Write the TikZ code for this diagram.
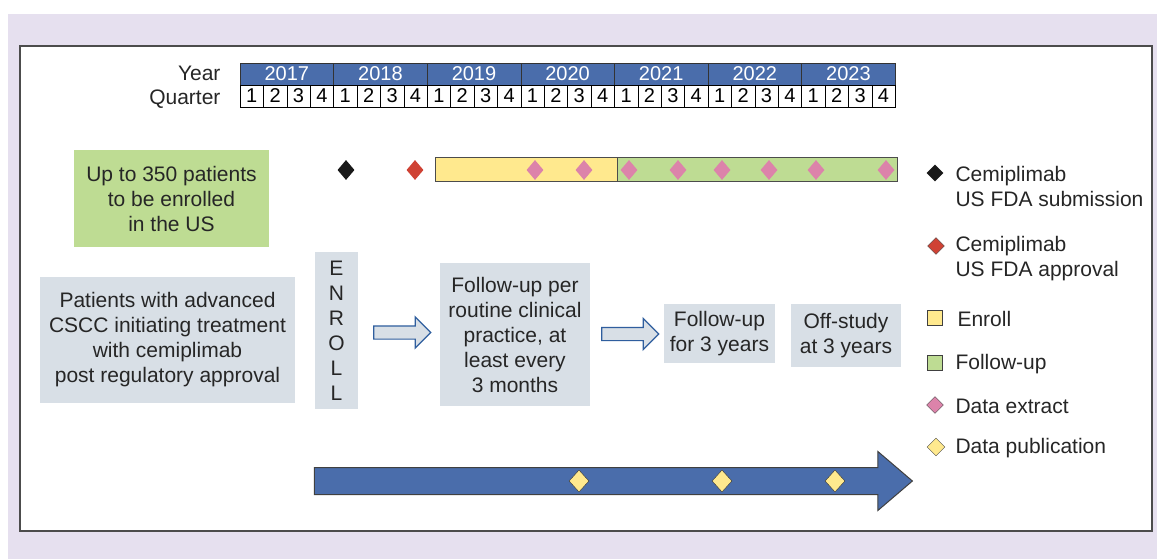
\documentclass[tikz,border=0pt]{standalone}
\usepackage{fontspec}
\setmainfont{Liberation Sans}
\usepackage{tikz}
\usetikzlibrary{shapes.geometric,shapes.arrows,calc}

\definecolor{lavender}{HTML}{E6E0EF}
\definecolor{barblue}{HTML}{4A6DAB}
\definecolor{linkblue}{HTML}{2F5E9E}
\definecolor{boxgray}{HTML}{D8DFE6}
\definecolor{enrollyellow}{HTML}{FFE98E}
\definecolor{followgreen}{HTML}{BEDC93}
\definecolor{extractpink}{HTML}{DC83AA}
\definecolor{approvalred}{HTML}{CF4234}

\begin{document}
\begin{tikzpicture}[x=1pt,y=-1pt,
  txt/.style={font=\fontsize{21}{25}\selectfont, align=center, text=black!85},
  infobox/.style={txt, fill=boxgray, inner sep=0pt},
  yearcell/.style={draw=black!80, fill=barblue, text=white, minimum width=93.6pt,
    minimum height=22pt, inner sep=0pt, font=\fontsize{20}{20}\selectfont},
  qcell/.style={draw=black, fill=white, minimum width=23.4pt, minimum height=22pt,
    inner sep=0pt, font=\fontsize{20}{20}\selectfont},
  gem/.style={diamond, minimum size=16pt, inner sep=0pt},
  bargem/.style={gem, minimum width=17pt, minimum height=20pt},
  legsq/.style={draw=black!75, minimum size=15pt, inner sep=0pt},
  bar/.style={draw=black!70, line width=1pt, minimum height=24pt, inner sep=0pt},
  hollow/.style={single arrow, draw=linkblue, fill=boxgray, line width=1.2pt,
    minimum height=57pt, minimum width=30pt, inner sep=6pt,
    single arrow head extend=9pt}]
\useasboundingbox (0,0) rectangle (1157,559);
\fill[lavender] (8,14) rectangle (1157,559);
\draw[fill=white, draw=black!70, line width=1.5pt] (20,46) rectangle (1152,531);

% timeline
\node[txt, anchor=base east] (yearlab) at (224,81) {Year};
\node[txt, anchor=base east] (quarterlab) at (224,105) {Quarter};
\foreach \yr [count=\i from 0] in {2017,...,2023} {
  \node[yearcell] (yr\yr) at (240+93.6*\i+46.8,74) {\yr};
  \foreach \q in {1,...,4}
    \node[qcell] (q\yr-\q) at (240+93.6*\i+23.4*\q-11.7,96) {\q};
}

% milestones
\node[bargem, fill=black!90] (subm) at (346,170) {};
\node[bargem, fill=approvalred] (appr) at (415,170) {};
\node[bar, fill=enrollyellow, minimum width=182pt] (enrollbar) at (526,170) {};
\node[bar, fill=followgreen, minimum width=280pt] (followbar) at (757,170) {};
\foreach \x [count=\k] in {535,584,629,678,722,769,816,886}
  \node[bargem, fill=extractpink] (ext\k) at (\x,170) {};

% study flow
\node[txt, fill=followgreen, inner sep=0pt, minimum width=195pt, minimum height=97pt]
  (target) at (171.5,198.5) {Up to 350 patients\\to be enrolled\\in the US};
\node[infobox, minimum width=255pt, minimum height=126pt] (patients) at (167.5,340)
  {Patients with advanced\\CSCC initiating treatment\\with cemiplimab\\post regulatory approval};
\node[infobox, minimum width=43pt, minimum height=157pt] (enroll) at (336.5,330.5)
  {E\\N\\R\\O\\L\\L};
\node[infobox, minimum width=150pt, minimum height=143pt] (routine) at (515,334.5)
  {Follow-up per\\routine clinical\\practice, at\\least every\\3 months};
\node[infobox, minimum width=111pt, minimum height=59pt] (fuyears) at (719.5,333.5)
  {Follow-up\\for 3 years};
\node[infobox, minimum width=110pt, minimum height=63pt] (offstudy) at (846,335.5)
  {Off-study\\at 3 years};
\node[hollow] (arrA) at ($(enroll.east)!0.5!(routine.west)$) {};
\node[hollow] (arrB) at ($(routine.east)!0.5!(fuyears.west)$) {};

% publication arrow
\node[single arrow, draw=black!75, fill=barblue, line width=1pt, minimum height=598pt,
  minimum width=58pt, inner sep=13pt, single arrow head extend=16pt,
  single arrow tip angle=81] (pubarrow) at (605.5,481) {};
\foreach \x [count=\k] in {579,722,835}
  \node[gem, draw=black!80, fill=enrollyellow, minimum width=20pt, minimum height=22pt]
    (pub\k) at (\x,481) {};

% legend
\node[gem, fill=black!90, minimum size=17pt] (legsubm) at (935,173) {};
\node[txt, align=left, anchor=west] (legsubmtxt) at (952,186) {Cemiplimab\\US FDA submission};
\node[gem, fill=approvalred, draw=black!70, minimum size=17pt] (legappr) at (936,246) {};
\node[txt, align=left, anchor=west] (legapprtxt) at (952,259) {Cemiplimab\\US FDA approval};
\node[legsq, fill=enrollyellow] (legenroll) at (935,318) {};
\node[txt, anchor=west] (legenrolltxt) at (954,319) {Enroll};
\node[legsq, fill=followgreen] (legfollow) at (935,363) {};
\node[txt, anchor=west] (legfollowtxt) at (952,364) {Follow-up};
\node[gem, fill=extractpink, draw=black!70, minimum size=17pt] (legext) at (935,405) {};
\node[txt, anchor=west] (legexttxt) at (952,406) {Data extract};
\node[gem, fill=enrollyellow, draw=black!70, minimum size=18pt] (legpub) at (936,447) {};
\node[txt, anchor=west] (legpubtxt) at (952,448) {Data publication};
\end{tikzpicture}
\end{document}
